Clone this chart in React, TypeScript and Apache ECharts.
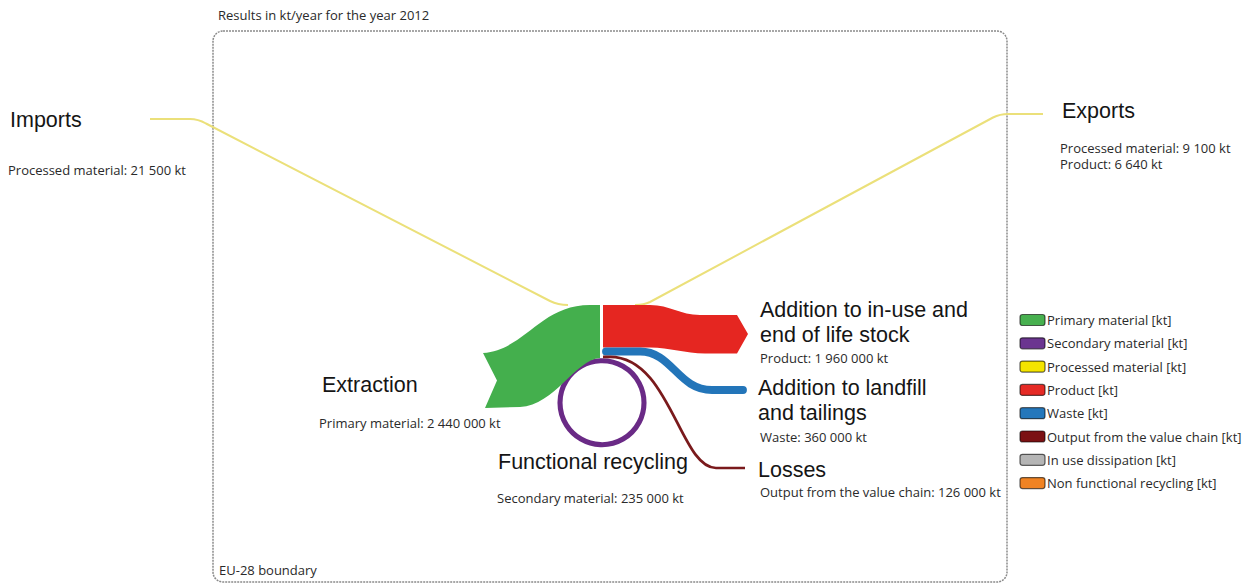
import React, { useEffect, useRef } from "react";
import * as echarts from "echarts";

// ---- data (kt/year, EU-28, 2012) ----
const flowNames = ["Imports", "Exports", "Extraction", "Stock", "Landfill", "Losses", "Recycling"];
const importsProcessed = 21500;
const exportsProcessed = 9100;
const exportsProduct = 6640;
const extractionPrimary = 2440000;
const stockProduct = 1960000;
const landfillWaste = 360000;
const lossesOutput = 126000;
const recyclingSecondary = 235000;

const headTitle = "Results in kt/year for the year 2012";
const boundaryLabel = "EU-28 boundary";

const legendLabels = [
  "Primary material [kt]",
  "Secondary material [kt]",
  "Processed material [kt]",
  "Product [kt]",
  "Waste [kt]",
  "Output from the value chain [kt]",
  "In use dissipation [kt]",
  "Non functional recycling [kt]",
];
const legendColors = ["#47b04f", "#6b3590", "#f4e400", "#e52a25", "#2477bb", "#7b1113", "#b5b5b5", "#f08323"];

const fmt = (v: number) => String(v).replace(/\B(?=(\d{3})+(?!\d))/g, " ");

// ---- layout ----
const FONT = "'Open Sans', 'Liberation Sans', Arial, sans-serif";
const HFONT = "'Liberation Sans', Arial, sans-serif";
const SMALL = 13;
const BIG = 21.5;
const MAX_BAND = 53; // px for the largest flow
const maxFlow = Math.max(extractionPrimary, stockProduct, landfillWaste, lossesOutput, recyclingSecondary);
const band = (v: number) => Math.max(2, (v / maxFlow) * MAX_BAND);

export default function App() {
  const ref = useRef<HTMLDivElement>(null);
  useEffect(() => {
    if (!ref.current) return;
    const chart = echarts.init(ref.current, null, { renderer: "svg" });

    const top = 305;
    const tG = band(extractionPrimary);
    const tR = band(stockProduct);
    const tB = band(landfillWaste);
    const tL = band(lossesOutput);
    const tC = band(recyclingSecondary);
    const tY = band(importsProcessed);

    const gBot = top + tG;
    const gL = top + 48;
    const greenD = `M 600 ${top} L 590 ${top} C 540 ${top} 525 ${gL - 3} 483 ${gL} L 497 ${gL + (tG + 2) / 2} L 485 ${gL + tG + 2} L 520 ${gL + tG + 1} C 555 ${gL + tG - 1} 575 ${gBot + 2} 600 ${gBot} Z`;
    const rBot = top + tR;
    const redD = `M 603 ${top} L 650 ${top} C 670 ${top} 680 ${top + 10} 700 ${top + 10} L 737 ${top + 10} L 748 ${top + 29} L 737 ${rBot + 6} L 705 ${rBot + 6} C 685 ${rBot + 6} 670 ${rBot} 650 ${rBot} L 603 ${rBot} Z`;
    const yb = rBot + tB / 2;
    const blueD = `M 606 ${yb} L 640 ${yb} C 672 ${yb} 678 390 712 390 L 743 390`;
    const yl = rBot + tB + tL / 2;
    const lossD = `M 603 ${yl} L 610 ${yl} C 670 ${yl} 680 468 716 468 L 745 468`;
    const impD = `M 150 119 L 190 119 Q 198 119 206 123.5 L 550 301 Q 558 305 568 305`;
    const expD = `M 1043 114 L 1008 114 Q 1000 114 993 117.5 L 650 302 Q 644 305 635 305`;

    const reg = (name: string, d: string) =>
      echarts.graphic.registerShape(name, echarts.graphic.extendPath(d, {}));
    reg("flowGreen", greenD);
    reg("flowRed", redD);
    reg("flowBlue", blueD);
    reg("flowLoss", lossD);
    reg("flowImp", impD);
    reg("flowExp", expD);

    const circR = 42;
    const circCy = rBot + tB + tL + tC / 2 + circR;

    const txt = (x: number, y: number, text: string, size: number, head = false, lh?: number) => ({
      type: "text",
      x,
      y,
      style: {
        text,
        fontSize: size,
        lineHeight: lh || Math.round(size * 1.2),
        fontFamily: head ? HFONT : FONT,
        fill: head ? "#151515" : "#2a2a2a",
        align: "left",
        verticalAlign: "middle",
      },
    });

    const elements: any[] = [
      {
        type: "rect",
        shape: { x: 213, y: 31, width: 794, height: 551, r: 10 },
        style: { fill: "none", stroke: "#8a8a8a", lineWidth: 1.5, lineDash: [2, 1] },
      },
      txt(218, 15, headTitle, SMALL),
      txt(219, 570, boundaryLabel, SMALL),
      { type: "flowImp", x: 0, y: 0, style: { fill: "none", stroke: "#ebe07a", lineWidth: tY } },
      { type: "flowExp", x: 0, y: 0, style: { fill: "none", stroke: "#ebe07a", lineWidth: tY } },
      {
        type: "circle",
        shape: { cx: 602, cy: circCy, r: circR },
        style: { fill: "none", stroke: "#6a2a86", lineWidth: tC },
      },
      { type: "flowGreen", x: 0, y: 0, style: { fill: "#44af4d" } },
      { type: "flowRed", x: 0, y: 0, style: { fill: "#e52621" } },
      { type: "flowBlue", x: 0, y: 0, style: { fill: "none", stroke: "#2375b9", lineWidth: tB, lineCap: "round" } },
      { type: "flowLoss", x: 0, y: 0, style: { fill: "none", stroke: "#7a1a1c", lineWidth: tL } },

      txt(10, 120, flowNames[0], BIG, true),
      txt(8, 170, `Processed material: ${fmt(importsProcessed)} kt`, SMALL),
      txt(1062, 111, flowNames[1], BIG, true),
      txt(1060, 148, `Processed material: ${fmt(exportsProcessed)} kt`, SMALL),
      txt(1060, 164, `Product: ${fmt(exportsProduct)} kt`, SMALL),
      txt(760, 310, "Addition to in-use and", BIG, true),
      txt(760, 335, "end of life stock", BIG, true),
      txt(760, 358, `Product: ${fmt(stockProduct)} kt`, SMALL),
      txt(758, 388, "Addition to landfill", BIG, true),
      txt(758, 413, "and tailings", BIG, true),
      txt(760, 437, `Waste: ${fmt(landfillWaste)} kt`, SMALL),
      txt(758, 470, flowNames[5], BIG, true),
      txt(760, 492, `Output from the value chain: ${fmt(lossesOutput)} kt`, SMALL),
      txt(322, 385, flowNames[2], BIG, true),
      txt(319, 423, `Primary material: ${fmt(extractionPrimary)} kt`, SMALL),
      txt(498, 462, "Functional recycling", BIG, true),
      txt(497, 498, `Secondary material: ${fmt(recyclingSecondary)} kt`, SMALL),
    ];

    legendLabels.forEach((lab, i) => {
      const cy = 320 + i * 23.3;
      elements.push({
        type: "rect",
        shape: { x: 1020, y: cy - 5.5, width: 25, height: 11, r: 2.5 },
        style: { fill: legendColors[i], stroke: "rgba(0,0,0,0.6)", lineWidth: 1.2 },
      });
      elements.push(txt(1047, cy, lab, SMALL));
    });

    chart.setOption({
      animation: false,
      graphic: { elements },
    });
    return () => chart.dispose();
  }, []);

  return (
    <div
      ref={ref}
      style={{ position: "fixed", left: 0, top: 0, width: 1250, height: 585, background: "#fff" }}
    />
  );
}
